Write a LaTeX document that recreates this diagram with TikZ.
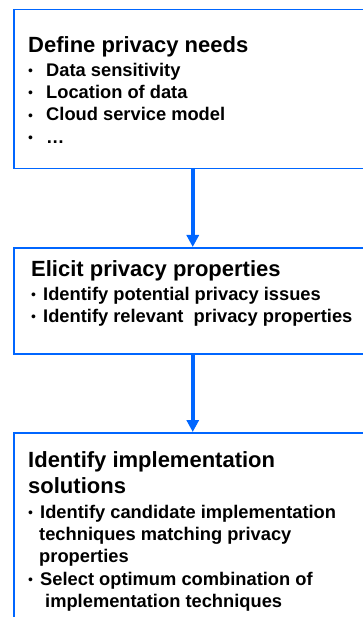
\documentclass[tikz,border=0pt]{standalone}
\usepackage{fontspec}
\setmainfont{Liberation Sans}
\usetikzlibrary{arrows.meta}
\definecolor{flowblue}{RGB}{0,102,255}
\newcommand{\titlesize}{\fontsize{22}{26}\selectfont}
\newcommand{\bul}[1][12pt]{\makebox[#1][l]{\raisebox{0.5pt}{\mdseries\fontsize{14}{14}\selectfont\textbullet}}}

\begin{document}
\begin{tikzpicture}[x=1pt,y=-1pt]
\tikzset{stepbox/.style={draw=flowblue, line width=1.5pt, anchor=north west, minimum width=358pt, inner sep=0pt},
         steptext/.style={anchor=north west, align=left, inner sep=0pt, font=\bfseries\fontsize{18.3}{22.3}\selectfont},
         flow/.style={draw=flowblue, line width=4pt, -{Triangle[width=12pt,length=12pt]}}}
\useasboundingbox (0,0) rectangle (363,617);
\node[stepbox, minimum height=159pt] (needs) at (13,9) {};
\node[stepbox, minimum height=106pt] (props) at (13,247) {};
\node[stepbox, minimum height=200pt] (solutions) at (13,432) {};
\node[steptext] (needstext) at (28,36) {{\titlesize Define privacy needs}\\[1.7pt]
  \bul[18pt]Data sensitivity\\
  \bul[18pt]Location of data\\
  \bul[18pt]Cloud service model\\
  \bul[18pt]…};
\node[steptext] (propstext) at (31,260) {{\titlesize Elicit privacy properties}\\[1.7pt]
  \bul Identify potential privacy issues\\
  \bul Identify relevant~ privacy properties};
\node[steptext] (solutionstext) at (28,451) {{\titlesize Identify implementation}\\[3.7pt]
  {\titlesize solutions}\\[2.7pt]
  \bul Identify candidate implementation\\
  \hspace*{11pt}techniques matching privacy\\
  \hspace*{11pt}properties\\
  \bul Select optimum combination of\\
  \hspace*{17pt}implementation techniques};
\draw[flow] (needs.south) -- (props.north);
\draw[flow] (props.south) -- (solutions.north);
\end{tikzpicture}
\end{document}
